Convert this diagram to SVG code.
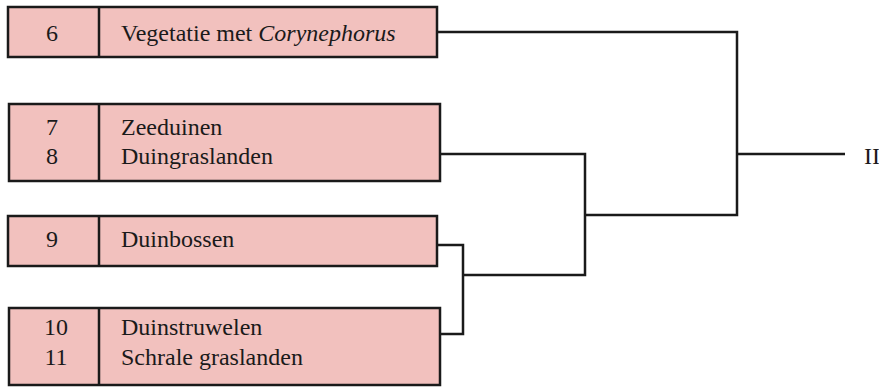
<svg xmlns="http://www.w3.org/2000/svg" width="879" height="387" viewBox="0 0 879 387">
<style>
.box{fill:#F2C1BE;stroke:#1a1a1a;stroke-width:2.5}
.div{stroke:#1a1a1a;stroke-width:2.5}
.t{font-family:"Liberation Serif",serif;font-size:24px;fill:#1a1a1a}
.n{text-anchor:middle}
.c{fill:none;stroke:#1a1a1a;stroke-width:2.5}
</style>
<rect width="879" height="387" fill="#fff"/>
<g id="node6">
<rect class="box" x="8" y="7" width="429" height="50"/>
<line class="div" x1="99" y1="7" x2="99" y2="57"/>
<text class="t n" x="52" y="41">6</text>
<text class="t" x="121" y="41">Vegetatie met <tspan font-style="italic">Corynephorus</tspan></text>
</g>
<g id="node78">
<rect class="box" x="9" y="104" width="431" height="77"/>
<line class="div" x1="99" y1="104" x2="99" y2="181"/>
<text class="t n" x="52" y="135">7</text>
<text class="t n" x="52" y="164">8</text>
<text class="t" x="121" y="135">Zeeduinen</text>
<text class="t" x="121" y="164">Duingraslanden</text>
</g>
<g id="node9">
<rect class="box" x="8" y="216" width="429" height="50"/>
<line class="div" x1="99" y1="216" x2="99" y2="266"/>
<text class="t n" x="52" y="247">9</text>
<text class="t" x="121" y="247">Duinbossen</text>
</g>
<g id="node1011">
<rect class="box" x="9" y="308" width="431" height="77"/>
<line class="div" x1="99" y1="308" x2="99" y2="385"/>
<text class="t n" x="56" y="335">10</text>
<text class="t n" x="56" y="365">11</text>
<text class="t" x="121" y="335">Duinstruwelen</text>
<text class="t" x="121" y="365">Schrale graslanden</text>
</g>
<g id="root">
<text class="t" x="864" y="164">II</text>
</g>
<g id="connectors">
<polyline class="c" points="437,32 737,32 737,215 585,215"/>
<line class="c" x1="737" y1="154" x2="845" y2="154"/>
<polyline class="c" points="440,154 585,154 585,275 463,275"/>
<polyline class="c" points="437,245 463,245 463,334 440,334"/>
</g>
</svg>
